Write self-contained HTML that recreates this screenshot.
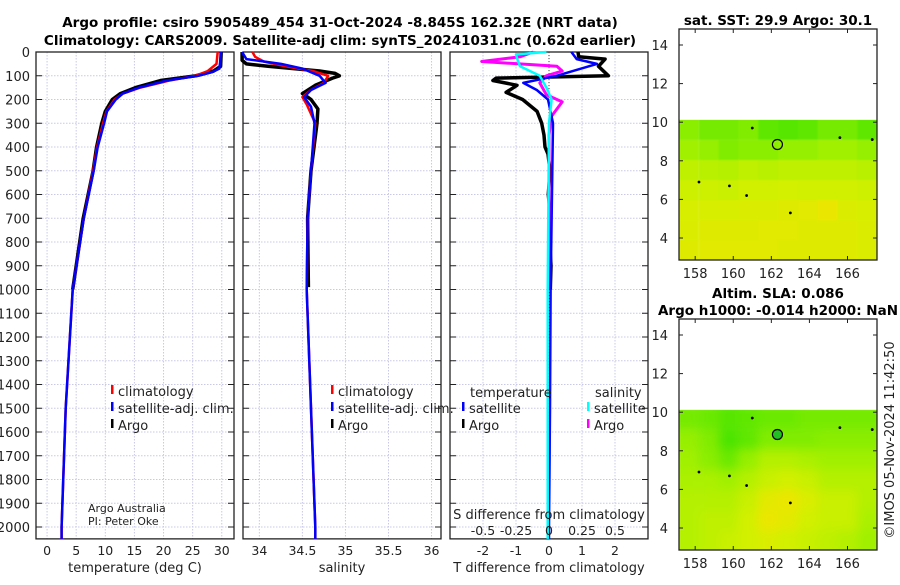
<!DOCTYPE html>
<html><head><meta charset="utf-8"><style>
body{margin:0;background:#fff;}
svg text{font-family:"DejaVu Sans","Liberation Sans",sans-serif;fill:#222;}
.t{font-weight:bold;font-size:13.5px;fill:#000;}
</style></head><body>
<svg id="s" width="900" height="580" xmlns="http://www.w3.org/2000/svg"></svg>
<script>
// ---------- data ----------
const depthTicks=[0,100,200,300,400,500,600,700,800,900,1000,1100,1200,1300,1400,1500,1600,1700,1800,1900,2000];
const tTicks=[0,5,10,15,20,25,30];
const sTicks=[34,34.5,35,35.5,36];
const dTTicks=[-2,-1,0,1,2];
const dSTicks=[-0.5,-0.25,0,0.25,0.5];
const dSLabels=["-0.5","-0.25","0","0.25","0.5"];
const tClimD=[0,50,80,100,120,150,175,200,250,300,400,500,700,1000,1500,2000,2050];
const tClimV=[29.3,29.1,27.6,25.5,21,16,13,11.6,10.2,9.6,8.6,7.9,6.3,4.4,3.2,2.5,2.5];
const tSatD=[0,70,85,100,120,150,175,200,250,300,400,500,700,1000,1500,2000,2050];
const tSatV=[29.9,29.6,28.3,26,20.6,15.8,13,11.8,10.3,9.8,8.7,8,6.3,4.4,3.2,2.5,2.5];
const tArgoD=[0,60,80,100,120,150,175,200,250,300,400,500,700,1000];
const tArgoV=[29.9,29.8,28.6,25.5,19.5,15.2,12.6,11.2,10,9.4,8.5,7.9,6.2,4.4];
const sClimD=[0,20,40,60,80,100,130,160,190,220,300,500,700,1000,1500,2000,2050];
const sClimV=[33.92,33.95,34.05,34.3,34.62,34.8,34.75,34.6,34.5,34.55,34.65,34.6,34.56,34.55,34.6,34.65,34.65];
const sSatD=[0,30,50,70,100,130,160,190,230,300,500,700,1000,1500,2000,2050];
const sSatV=[33.8,33.85,34.25,34.5,34.7,34.77,34.6,34.52,34.6,34.64,34.6,34.56,34.55,34.6,34.65,34.65];
const sArgoD=[0,35,50,60,80,90,100,110,140,175,190,200,240,300,500,700,990];
const sArgoV=[33.8,33.8,33.85,34.1,34.7,34.88,34.93,34.85,34.65,34.5,34.56,34.6,34.68,34.67,34.6,34.56,34.57];
const dTArgoD=[0,20,30,60,100,110,120,140,170,200,250,300,350,400,430,500,600,700,800,900,1000];
const dTArgoV=[0.88,0.9,1.7,1.5,1.8,-1.6,-1.7,-0.97,-1.3,-0.8,-0.36,-0.22,-0.15,-0.12,-0.03,0.03,-0.02,0.05,0.02,0.06,0.04];
const dTSatD=[0,30,50,100,130,160,200,300,500,1000,1500,2000,2050];
const dTSatV=[0.68,0.84,1.45,0.23,-0.78,-0.37,-0.03,0.12,0.1,0.05,0.03,0,0];
const dSSatD=[0,10,30,60,100,150,200,300,1000,2000,2050];
const dSSatV=[-0.02,-0.25,-0.24,-0.22,-0.07,-0.02,0.02,0,-0.01,-0.01,-0.01];
const dSArgoD=[0,20,40,60,80,100,130,180,210,270,350,1000];
const dSArgoV=[-0.12,-0.22,-0.51,0.06,0.1,-0.02,-0.07,-0.02,0.1,0.02,0,0];
const lonTicks=[158,160,162,164,166];
const latTicks=[4,6,8,10,12,14];
// map cell values (0=green,1=orange-yellow); rows lat 10.1->3, cols lon 157.3->167.5
const sstGrid=[
[0.4,0.3,0.3,0.35,0.2,0.15,0.2,0.3,0.3,0.2],
[0.5,0.45,0.35,0.4,0.4,0.45,0.45,0.5,0.5,0.45],
[0.65,0.62,0.6,0.65,0.62,0.65,0.65,0.65,0.65,0.62],
[0.72,0.72,0.7,0.74,0.74,0.75,0.74,0.74,0.74,0.72],
[0.78,0.78,0.78,0.8,0.8,0.82,0.84,0.9,0.8,0.78],
[0.8,0.82,0.82,0.82,0.84,0.84,0.82,0.82,0.82,0.8],
[0.82,0.84,0.84,0.84,0.84,0.82,0.82,0.82,0.82,0.8]];
const slaGrid=[
[0.3,0.25,0.15,0.2,0.25,0.25,0.3,0.3,0.3,0.3],
[0.45,0.35,0.1,0.2,0.35,0.35,0.35,0.4,0.4,0.4],
[0.5,0.4,0.25,0.45,0.6,0.6,0.55,0.5,0.5,0.5],
[0.55,0.55,0.5,0.6,0.7,0.75,0.7,0.6,0.6,0.6],
[0.6,0.6,0.6,0.7,0.85,0.9,0.8,0.7,0.7,0.6],
[0.6,0.65,0.65,0.75,0.9,0.85,0.75,0.7,0.7,0.55],
[0.6,0.65,0.7,0.75,0.8,0.75,0.7,0.65,0.6,0.5]];

// ---------- helpers ----------
const S=document.getElementById('s');const NS='http://www.w3.org/2000/svg';
function mk(tag,at,parent){const e=document.createElementNS(NS,tag);for(const k in at)e.setAttribute(k,at[k]);(parent||S).appendChild(e);return e;}
function txt(x,y,str,at,name){const e=mk('text',Object.assign({x:x,y:y},at||{}));e.textContent=str;

return e;}
const Y0=52,PPM=0.2375,DMAX=2050;
const yD=d=>Y0+d*PPM;
const P1={l:36,r:234,min:-1.9,max:32.1};
const P2={l:243,r:441,min:33.81,max:36.11};
const P3={l:450,r:648,min:-3,max:3};
const xs=(p,v)=>p.l+(v-p.min)/(p.max-p.min)*(p.r-p.l);
const yB=yD(DMAX);

function panel(p,name,ticks,labels,xlabel){
 const g=mk('g',{});
 depthTicks.forEach(d=>{mk('line',{x1:p.l,x2:p.r,y1:yD(d),y2:yD(d),stroke:'#c8c8e8','stroke-dasharray':'1.5,1.5','stroke-width':1},g);
  mk('line',{x1:p.l,x2:p.l+6,y1:yD(d),y2:yD(d),stroke:'#222'},g);mk('line',{x1:p.r-6,x2:p.r,y1:yD(d),y2:yD(d),stroke:'#222'},g);});
 ticks.forEach((t,i)=>{const x=xs(p,t);mk('line',{x1:x,x2:x,y1:Y0,y2:yB,stroke:'#c8c8e8','stroke-dasharray':'1.5,1.5'},g);
  if(labels){const e=txt(x,555,labels[i],{'text-anchor':'middle','font-size':'12.5'},'x-tick-label');g.appendChild(e);}});
 mk('rect',{x:p.l,y:Y0,width:p.r-p.l,height:yB-Y0,fill:'none',stroke:'#222','stroke-width':1.3},g);
 if(xlabel){const e=txt((p.l+p.r)/2,572,xlabel,{'text-anchor':'middle','font-size':'13'},'x-axis-title');g.appendChild(e);}
 return g;}
function line(p,D,V,col,w,name,scale){let pts=D.map((d,i)=>xs(p,scale?V[i]*scale:V[i]).toFixed(1)+','+yD(d).toFixed(1)).join(' ');
 const e=mk('polyline',{points:pts,fill:'none',stroke:col,'stroke-width':w,'stroke-linejoin':'round'});
 return e;}

// titles
txt(340,27,'Argo profile: csiro 5905489_454 31-Oct-2024 -8.845S 162.32E (NRT data)',{'text-anchor':'middle',class:'t'},'chart-title');
txt(340,45,'Climatology: CARS2009. Satellite-adj clim: synTS_20241031.nc (0.62d earlier)',{'text-anchor':'middle',class:'t'},'chart-subtitle');

// panel 1
panel(P1,'temperature-panel',tTicks,tTicks.map(String),'temperature (deg C)');
depthTicks.forEach(d=>txt(30,yD(d)+5,String(d),{'text-anchor':'end','font-size':'13'},'y-tick-label'));
line(P1,tArgoD,tArgoV,'#000',3.5,'temp-argo-line');
line(P1,tClimD,tClimV,'#f00',2.5,'temp-climatology-line');
line(P1,tSatD,tSatV,'#00f',2.5,'temp-satellite-line');
// panel 2
panel(P2,'salinity-panel',sTicks,sTicks.map(String),'salinity');
line(P2,sArgoD,sArgoV,'#000',3.5,'sal-argo-line');
line(P2,sClimD,sClimV,'#f00',2.5,'sal-climatology-line');
line(P2,sSatD,sSatV,'#00f',2.5,'sal-satellite-line');
// panel 3
panel(P3,'difference-panel',dTTicks,dTTicks.map(String),'T difference from climatology');
mk('line',{x1:xs(P3,0),x2:xs(P3,0),y1:Y0,y2:yB,stroke:'#444','stroke-dasharray':'1,2'});
line(P3,dTArgoD,dTArgoV,'#000',3.5,'dT-argo-line');
line(P3,dSArgoD,dSArgoV,'#f0f',3,'dS-argo-line',4);
line(P3,dTSatD,dTSatV,'#00f',2.5,'dT-satellite-line');
line(P3,dSSatD,dSSatV,'#0ff',2.5,'dS-satellite-line',4);
txt(549,519,'S difference from climatology',{'text-anchor':'middle','font-size':'13'},'s-axis-title');
dSTicks.forEach((t,i)=>txt(xs(P3,t*4),535,dSLabels[i],{'text-anchor':'middle','font-size':'12.5'},'s-tick-label'));

// legends
function leg(x,y,col,label,name){const r=mk('rect',{x:x,y:y-12,width:2.5,height:9,fill:col});
 txt(x+7,y-1,label,{'font-size':'13'},name);}
[[P1,111],[P2,331]].forEach(([p,x],k)=>{leg(x,397,'#f00','climatology','legend-climatology');leg(x,414,'#00f','satellite-adj. clim.','legend-satellite');leg(x,431,'#000','Argo','legend-argo');});
txt(470,397,'temperature',{'font-size':'13'},'legend-temperature-header');
txt(595,397,'salinity',{'font-size':'13'},'legend-salinity-header');
leg(462,414,'#00f','satellite','legend-t-satellite');leg(462,431,'#000','Argo','legend-t-argo');
leg(587,414,'#0ff','satellite','legend-s-satellite');leg(587,431,'#f0f','Argo','legend-s-argo');
txt(88,512,'Argo Australia',{'font-size':'11'},'credit-text');
txt(88,525,'PI: Peter Oke',{'font-size':'11'},'pi-text');

// maps
const M={l:679,r:877,lon0:157.15,lon1:167.55};
const lonX=v=>M.l+(v-M.lon0)/(M.lon1-M.lon0)*(M.r-M.l);
function col(v){const c=[[0,[55,225,0]],[0.5,[160,240,0]],[0.75,[210,240,0]],[0.9,[235,230,0]],[1,[245,210,0]]];
 for(let i=1;i<c.length;i++){if(v<=c[i][0]){const a=c[i-1],b=c[i],t=(v-a[0])/(b[0]-a[0]);return 'rgb('+a[1].map((q,j)=>Math.round(q+(b[1][j]-q)*t)).join(',')+')';}}return 'rgb(245,210,0)';}
function map(top,grid,name,title,title2,blur){
 const bot=top+231;const latY=v=>top+16+(14-v)*19.3;
 const g=mk('g',{});
 const cid='c'+name;const cp=mk('clipPath',{id:cid},g);mk('rect',{x:M.l,y:latY(10.12),width:M.r-M.l,height:bot-latY(10.12)},cp);
 const fid='f'+name;const f=mk('filter',{id:fid,x:'-10%',y:'-10%',width:'120%',height:'120%'},g);mk('feGaussianBlur',{stdDeviation:blur},f);
 const cg=mk('g',{'clip-path':'url(#'+cid+')'},g);const hg=mk('g',{filter:'url(#'+fid+')'},cg);
 const nr=grid.length,nc=grid[0].length;const y0=latY(10.12),cw=(M.r-M.l)/nc,ch=(bot-y0)/nr;
 grid.forEach((row,r)=>row.forEach((v,c)=>{const e=mk('rect',{x:M.l+c*cw-(c==0?8:0),y:y0+r*ch-(r==0?8:0),width:cw+(c==0||c==nc-1?8:0.5),height:ch+(r==nr-1||r==0?8:0.5),fill:col(v)},hg);
  }));
 mk('rect',{x:M.l,y:top,width:M.r-M.l,height:bot-top,fill:'none',stroke:'#222','stroke-width':1.3},g);
 lonTicks.forEach(v=>{const x=lonX(v);mk('line',{x1:x,x2:x,y1:bot,y2:bot-4,stroke:'#222'},g);mk('line',{x1:x,x2:x,y1:top,y2:top+4,stroke:'#222'},g);
  g.appendChild(txt(x,bot+18,String(v),{'text-anchor':'middle','font-size':'13'},'lon-tick-label'));});
 latTicks.forEach(v=>{const y=latY(v);mk('line',{x1:M.l,x2:M.l+4,y1:y,y2:y,stroke:'#222'},g);mk('line',{x1:M.r,x2:M.r-4,y1:y,y2:y,stroke:'#222'},g);
  g.appendChild(txt(668,y+5,String(v),{'text-anchor':'end','font-size':'13'},'lat-tick-label'));});
 const c=mk('circle',{cx:lonX(162.32),cy:latY(8.845),r:5,fill:name=='sla-map'?'#22c022':'none',stroke:'#000','stroke-width':1.2},g);
 
 [[158.2,6.9],[163,5.3],[161,9.7],[159.8,6.7],[160.7,6.2],[165.6,9.2],[167.3,9.1]].forEach(p=>mk('circle',{cx:lonX(p[0]),cy:latY(p[1]),r:1.4,fill:'#000'},g));
 if(title)txt(778,top-4-(title2?17:0),title,{'text-anchor':'middle',class:'t'},'map-title');
 if(title2)txt(778,top-4,title2,{'text-anchor':'middle',class:'t'},'map-title-2');
}
map(29,sstGrid,'sst-map','sat. SST: 29.9 Argo: 30.1',null,0.8);
map(319,slaGrid,'sla-map','Altim. SLA: 0.086','Argo h1000: -0.014 h2000: NaN',5);
txt(0,0,'©IMOS 05-Nov-2024 11:42:50',{'font-size':'13',transform:'translate(894,440) rotate(-90)','text-anchor':'middle'},'timestamp');
</script>
</body></html>
